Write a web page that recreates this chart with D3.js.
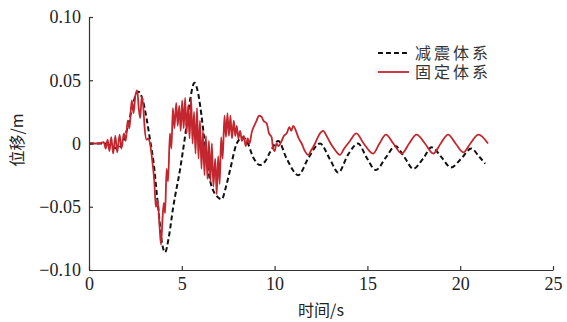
<!DOCTYPE html>
<html>
<head>
<meta charset="utf-8">
<script src="https://cdn.jsdelivr.net/npm/d3@7"></script>
<style>
  body { margin: 0; background: #fff; }
  svg { display: block; }
</style>
</head>
<body>
<script>
// time (s) / displacement (m)
const seriesNames = ["减震体系", "固定体系"];

const dampedT = [0, 0.8, 1.2, 1.5, 1.8, 2.1, 2.4, 2.66, 2.9, 3.1, 3.3, 3.47, 3.73, 3.95, 4.1, 4.3, 4.54, 4.9, 5.17, 5.44, 5.68, 5.89, 6.07, 6.34, 6.52, 6.8, 7.15, 7.4, 7.6, 7.96, 8.3, 8.5, 8.85, 9.2, 9.5, 9.75, 10.2, 10.65, 11.28, 11.8, 12.45, 13.0, 13.43, 13.95, 14.5, 14.95, 15.45, 16.0, 16.5, 17.0, 17.47, 18.0, 18.46, 19.0, 19.5, 20.05, 20.6, 21.0, 21.35];
const dampedV = [0, 0, -0.002, -0.004, 0, 0.014, 0.033, 0.041, 0.034, 0.020, 0.002, -0.014, -0.051, -0.080, -0.086, -0.074, -0.050, -0.021, 0.005, 0.034, 0.048, 0.039, 0.021, -0.013, -0.029, -0.040, -0.044, -0.033, -0.021, 0, 0.005, 0.002, -0.011, -0.017, -0.014, -0.007, 0.002, -0.012, -0.025, -0.012, 0, -0.013, -0.023, -0.009, 0, -0.011, -0.021, -0.011, -0.002, -0.011, -0.020, -0.012, -0.003, -0.011, -0.019, -0.012, -0.004, -0.010, -0.016];

const fixedT = [0, 0.5, 0.8, 0.9, 1.0, 1.1, 1.2, 1.3, 1.42, 1.52, 1.65, 1.75, 1.88, 1.98, 2.08, 2.18, 2.3, 2.4, 2.5, 2.6, 2.68, 2.76, 2.84, 2.92, 3.0, 3.1, 3.2, 3.3, 3.42, 3.52, 3.6, 3.7, 3.8, 3.88, 3.96, 4.03, 4.1, 4.18, 4.26, 4.36, 4.44, 4.52, 4.6, 4.7, 4.78, 4.86, 4.94, 5.02, 5.1, 5.18, 5.26, 5.34, 5.42, 5.5, 5.58, 5.66, 5.74, 5.82, 5.9, 5.98, 6.06, 6.14, 6.22, 6.3, 6.38, 6.46, 6.54, 6.62, 6.7, 6.8, 6.88, 6.96, 7.04, 7.12, 7.2, 7.3, 7.38, 7.46, 7.54, 7.62, 7.7, 7.8, 7.88, 7.96, 8.05, 8.14, 8.24, 8.34, 8.44, 8.55, 8.65, 8.77, 8.9, 9.03, 9.15, 9.3, 9.4, 9.57, 9.7, 9.84, 9.92, 10.0, 10.1, 10.2, 10.38, 10.5, 10.65, 10.8, 10.9, 11.0, 11.15, 11.3, 11.46, 11.6, 11.82, 11.95, 12.18, 12.4, 12.62, 12.8, 12.98, 13.2, 13.52, 13.75, 14.06, 14.4, 14.8, 15.3, 15.65, 16.0, 16.4, 16.85, 17.25, 17.65, 18.1, 18.55, 18.95, 19.35, 19.75, 20.17, 20.55, 20.98, 21.5];
const fixedV = [0, 0, 0.001, -0.004, 0.003, -0.006, 0.005, -0.008, 0.006, -0.007, 0.007, -0.004, 0.008, 0.002, 0.018, 0.012, 0.034, 0.024, 0.038, 0.042, 0.028, 0.020, 0.037, 0.030, 0.012, 0.003, 0.004, -0.001, -0.015, -0.030, -0.050, -0.045, -0.065, -0.080, -0.060, -0.047, -0.055, -0.020, -0.030, 0.008, -0.004, 0.028, 0.012, 0.032, 0.014, 0.030, 0.010, 0.034, 0.012, 0.036, 0.008, 0.030, 0.004, 0.036, 0, 0.025, -0.008, 0.028, -0.012, 0.018, -0.020, 0.010, -0.025, 0.006, -0.028, 0.002, -0.030, 0, -0.034, -0.012, -0.040, -0.010, -0.032, 0.005, -0.012, 0.022, 0.005, 0.024, 0.006, 0.022, 0.004, 0.018, 0.006, 0.014, 0.004, 0.010, 0.002, 0.006, -0.002, 0.004, 0, 0.009, 0.014, 0.018, 0.022, 0.021, 0.018, 0.016, 0.008, 0.005, -0.004, -0.006, 0, -0.002, 0.002, 0.006, 0.008, 0.013, 0.010, 0.014, 0.010, 0.004, 0, -0.005, -0.009, -0.006, 0, 0.007, 0.010, 0.006, 0.001, -0.004, -0.009, -0.004, 0.002, 0.008, 0, -0.008, 0, 0.007, 0, -0.008, 0, 0.007, 0, -0.008, 0, 0.007, 0, -0.007, 0, 0.007, 0];

const xTicks = [0, 5, 10, 15, 20, 25];
const yTicks = [0.10, 0.05, 0, -0.05, -0.10];
const yTickLabels = ["0.10", "0.05", "0", "\u22120.05", "\u22120.10"];

const width = 567, height = 322;
const margin = {top: 17, right: 14, bottom: 52, left: 89};
const numFont = "'Liberation Serif', 'Times New Roman', serif";
const cjkFont = "'Noto Sans CJK SC', sans-serif";

const svg = d3.select("body").append("svg")
    .attr("width", width)
    .attr("height", height)
    .style("background", "#fff");

const x = d3.scaleLinear().domain([0, 25]).range([margin.left, width - margin.right]);
const y = d3.scaleLinear().domain([-0.10, 0.10]).range([height - margin.bottom, margin.top]);

const line = d3.line()
    .x(d => x(d[0]))
    .y(d => y(d[1]))
    .curve(d3.curveMonotoneX);

const damped = dampedT.map((t, i) => [t, dampedV[i]]);
const fixed = fixedT.map((t, i) => [t, fixedV[i]]);

svg.append("path")
    .datum(damped)
    .attr("fill", "none")
    .attr("stroke", "#111")
    .attr("stroke-width", 2)
    .attr("stroke-dasharray", "5,3")
    .attr("d", line);

svg.append("path")
    .datum(fixed)
    .attr("fill", "none")
    .attr("stroke", "#c4262e")
    .attr("stroke-width", 1.8)
    .attr("stroke-linejoin", "round")
    .attr("d", line);

// axes
const xAxis = svg.append("g")
    .attr("transform", `translate(0,${height - margin.bottom})`)
    .call(d3.axisBottom(x).tickValues(xTicks).tickSize(-4).tickSizeOuter(0).tickPadding(7));

const yAxis = svg.append("g")
    .attr("transform", `translate(${margin.left},0)`)
    .call(d3.axisLeft(y).tickValues(yTicks).tickSize(-4).tickSizeOuter(0).tickPadding(8)
      .tickFormat((d, i) => yTickLabels[i]));

[xAxis, yAxis].forEach(g => {
  g.selectAll("path, line").attr("stroke", "#333").attr("stroke-width", 1.2);
  g.selectAll("text")
    .attr("fill", "#222")
    .style("font-family", numFont)
    .style("font-size", "18px");
});

svg.append("text")
    .attr("x", (margin.left + width - margin.right) / 2)
    .attr("y", 316)
    .attr("text-anchor", "middle")
    .style("font-family", cjkFont)
    .style("font-size", "16px")
    .attr("fill", "#222")
    .text("时间/s");

svg.append("text")
    .attr("transform", `translate(23,140) rotate(-90)`)
    .attr("text-anchor", "middle")
    .style("font-family", cjkFont)
    .style("font-size", "16px")
    .attr("fill", "#222")
    .text("位移/m");

// legend
const legend = svg.append("g");
const legendStyles = [
  {stroke: "#111", width: 2, dash: "5,3"},
  {stroke: "#c4262e", width: 1.8, dash: null}
];
seriesNames.forEach((name, i) => {
  const ly = 53 + i * 19;
  legend.append("line")
      .attr("x1", 378).attr("x2", 409)
      .attr("y1", ly).attr("y2", ly)
      .attr("stroke", legendStyles[i].stroke)
      .attr("stroke-width", legendStyles[i].width)
      .attr("stroke-dasharray", legendStyles[i].dash);
  legend.append("text")
      .attr("x", 415)
      .attr("y", ly)
      .attr("dy", "0.36em")
      .style("font-family", cjkFont)
      .style("font-size", "16px")
      .style("letter-spacing", "3px")
      .attr("fill", "#333")
      .text(name);
});
</script>
</body>
</html>
